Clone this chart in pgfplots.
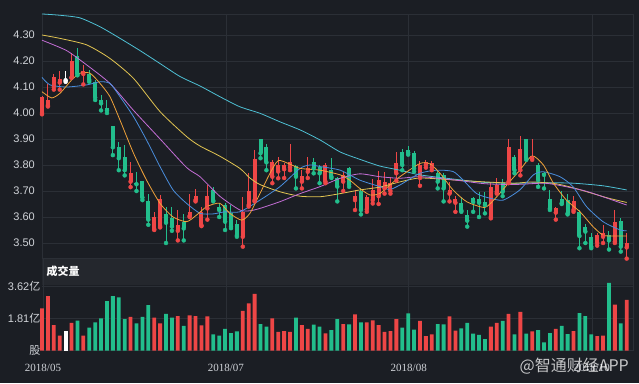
\documentclass[border=0pt]{standalone}
\usepackage{pgfplots}
\pgfplotsset{compat=1.18}
\usepackage{pgfplotstable}
\usepackage{fontspec}
\setmainfont{Liberation Sans}
\newfontfamily\cjk{Noto Sans CJK SC}
\newfontfamily\datefont{Liberation Serif}
\definecolor{bgc}{HTML}{1B1E24}
\definecolor{bandc}{HTML}{24272D}
\definecolor{gridc}{HTML}{2B2F36}
\definecolor{upc}{HTML}{EE4646}
\definecolor{dnc}{HTML}{22BE8C}
\definecolor{lblc}{HTML}{D0D3D8}
\definecolor{macyan}{HTML}{4EC0D4}
\definecolor{magold}{HTML}{E2C552}
\definecolor{mamag}{HTML}{C46ED6}
\definecolor{mablue}{HTML}{4A8EDD}
\definecolor{maorange}{HTML}{F0A23A}

\pgfplotstableread{
i O H L C V
0 4.000 4.065 3.995 4.060 2.40
1 4.030 4.110 4.025 4.050 3.09
2 4.100 4.150 4.090 4.140 1.45
3 4.117 4.160 4.090 4.130 0.85
5 4.137 4.230 4.135 4.200 1.57
7 4.150 4.185 4.110 4.160 0.85
15 3.736 3.810 3.715 3.770 1.91
19 3.553 3.620 3.550 3.600 1.87
20 3.565 3.685 3.560 3.668 1.55
23 3.547 3.627 3.510 3.570 1.96
25 3.604 3.690 3.600 3.620 2.00
26 3.665 3.706 3.660 3.680 1.96
27 3.568 3.640 3.565 3.620 1.43
28 3.633 3.723 3.590 3.680 1.94
34 3.524 3.678 3.486 3.620 2.25
35 3.646 3.768 3.640 3.700 2.68
36 3.665 3.858 3.660 3.822 3.21
39 3.755 3.820 3.730 3.813 1.83
40 3.775 3.832 3.749 3.800 1.07
41 3.784 3.806 3.750 3.800 1.11
42 3.790 3.880 3.780 3.810 1.06
44 3.736 3.780 3.710 3.757 1.45
45 3.774 3.830 3.750 3.787 1.24
48 3.736 3.806 3.730 3.800 0.98
51 3.736 3.775 3.700 3.762 1.51
53 3.665 3.705 3.627 3.680 2.06
55 3.630 3.685 3.620 3.678 1.60
56 3.665 3.746 3.652 3.704 1.72
57 3.680 3.777 3.650 3.742 1.45
58 3.710 3.775 3.690 3.733 1.07
59 3.700 3.755 3.690 3.730 1.11
60 3.768 3.850 3.740 3.809 1.79
64 3.750 3.815 3.720 3.800 1.68
65 3.800 3.820 3.790 3.813 0.83
66 3.790 3.815 3.780 3.806 0.93
69 3.690 3.736 3.660 3.704 1.94
70 3.655 3.680 3.620 3.668 1.13
76 3.600 3.736 3.595 3.715 1.36
77 3.697 3.750 3.690 3.722 1.58
79 3.736 3.900 3.730 3.870 2.08
81 3.780 3.912 3.760 3.860 2.19
83 3.826 3.900 3.820 3.834 1.10
87 3.617 3.640 3.590 3.633 1.23
90 3.627 3.680 3.620 3.662 1.11
94 3.500 3.537 3.490 3.530 0.83
95 3.524 3.570 3.500 3.537 0.85
97 3.505 3.627 3.500 3.582 2.60
99 3.483 3.537 3.440 3.500 2.87
}\uptab

\pgfplotstableread{
i O H L C V
6 4.219 4.250 4.145 4.150 1.70
8 4.150 4.165 4.120 4.127 1.30
9 4.120 4.127 4.050 4.060 1.60
10 4.050 4.070 4.010 4.037 1.83
11 4.020 4.050 4.000 4.010 2.81
12 3.950 3.950 3.838 3.868 3.09
13 3.870 3.890 3.780 3.826 3.02
14 3.830 3.877 3.760 3.780 1.78
16 3.732 3.774 3.700 3.726 1.55
17 3.738 3.740 3.665 3.675 1.91
18 3.660 3.690 3.570 3.590 2.58
21 3.610 3.640 3.500 3.578 2.08
22 3.595 3.640 3.547 3.563 1.87
24 3.582 3.610 3.510 3.556 1.41
29 3.704 3.717 3.660 3.663 0.93
30 3.640 3.653 3.600 3.627 0.85
31 3.646 3.653 3.550 3.582 1.24
32 3.614 3.645 3.557 3.563 1.00
33 3.573 3.590 3.524 3.530 1.10
37 3.899 3.900 3.826 3.845 1.51
38 3.870 3.880 3.780 3.810 1.36
43 3.796 3.800 3.710 3.755 1.87
46 3.810 3.826 3.768 3.787 1.47
47 3.794 3.800 3.730 3.768 1.36
49 3.780 3.826 3.750 3.755 1.17
50 3.749 3.755 3.660 3.717 1.79
52 3.790 3.794 3.716 3.726 1.49
54 3.700 3.710 3.610 3.627 1.60
61 3.851 3.860 3.780 3.800 1.30
62 3.857 3.875 3.840 3.847 2.11
63 3.845 3.852 3.775 3.787 1.19
67 3.770 3.780 3.710 3.736 1.51
68 3.762 3.770 3.660 3.710 1.49
71 3.652 3.678 3.620 3.625 1.26
72 3.608 3.627 3.563 3.586 1.58
73 3.672 3.678 3.620 3.658 0.96
74 3.668 3.697 3.600 3.655 0.89
75 3.659 3.697 3.614 3.646 0.66
78 3.730 3.745 3.680 3.697 1.68
80 3.832 3.840 3.768 3.780 0.93
82 3.899 3.900 3.820 3.826 0.96
84 3.800 3.806 3.716 3.742 1.17
85 3.770 3.774 3.710 3.762 0.47
86 3.670 3.704 3.627 3.633 1.00
88 3.670 3.700 3.650 3.653 1.41
89 3.665 3.688 3.610 3.614 0.94
91 3.620 3.627 3.480 3.527 2.13
92 3.563 3.573 3.500 3.544 1.96
93 3.522 3.537 3.480 3.486 0.93
96 3.530 3.547 3.475 3.510 3.83
98 3.586 3.595 3.467 3.486 1.55
}\dntab

\pgfplotstableread{
i O H L C V
4 4.126 4.160 4.120 4.128 1.11
}\flattab

\begin{document}
\begin{tikzpicture}
\fill[bgc] (0pt,0pt) rectangle (639pt,383pt);
\fill[bandc] (42pt,98pt) rectangle (633pt,124.5pt);

% ---------------- price panel ----------------
\begin{axis}[
  at={(42pt,124.5pt)}, anchor=south west,
  scale only axis, width=591pt, height=244.5pt,
  xmin=0, xmax=100.07, ymin=3.4404, ymax=4.3808,
  clip=false,
  axis line style={draw=gridc, line width=0.6pt},
  major tick length=0pt,
  xtick={31.15,62.1,93.1}, xticklabels={},
  ytick={3.5,3.6,3.7,3.8,3.9,4.0,4.1,4.2,4.3},
  yticklabels={3.50,3.60,3.70,3.80,3.90,4.00,4.10,4.20,4.30},
  grid=major, major grid style={draw=gridc, line width=0.6pt},
  yticklabel style={font=\fontsize{11}{11}\selectfont, text=lblc, anchor=east, inner sep=0pt, xshift=-7pt},
]
% wicks
\addplot[upc, only marks, mark=none, error bars/.cd, y dir=plus, y explicit, error mark=none, error bar style={line width=1pt}]
  table[x=i, y=L, y error plus expr=\thisrow{H}-\thisrow{L}] {\uptab};
\addplot[dnc, only marks, mark=none, error bars/.cd, y dir=plus, y explicit, error mark=none, error bar style={line width=1pt}]
  table[x=i, y=L, y error plus expr=\thisrow{H}-\thisrow{L}] {\dntab};
\addplot[white, only marks, mark=none, error bars/.cd, y dir=plus, y explicit, error mark=none, error bar style={line width=1pt}]
  table[x=i, y=L, y error plus expr=\thisrow{H}-\thisrow{L}] {\flattab};
% bodies
\addplot[upc, only marks, mark=none, error bars/.cd, y dir=plus, y explicit, error mark=none, error bar style={line width=4pt}]
  table[x=i, y=O, y error plus expr=\thisrow{C}-\thisrow{O}] {\uptab};
\addplot[dnc, only marks, mark=none, error bars/.cd, y dir=plus, y explicit, error mark=none, error bar style={line width=4pt}]
  table[x=i, y=C, y error plus expr=\thisrow{O}-\thisrow{C}] {\dntab};
\addplot[white, only marks, mark=none, error bars/.cd, y dir=plus, y explicit, error mark=none, error bar style={line width=4pt}]
  table[x=i, y=O, y error plus expr=\thisrow{C}-\thisrow{O}] {\flattab};

% moving averages
\addplot[macyan, line width=0.8pt, smooth, tension=0.4] coordinates {
(0,4.381) (3,4.376) (6.4,4.366) (9.8,4.332) (13,4.29) (16.6,4.24) (20,4.19) (23.4,4.14) (26.75,4.104) (30.1,4.063) (33.5,4.024) (36.9,3.999) (40.3,3.966) (43.7,3.935) (47.1,3.896) (50.5,3.85) (53.8,3.822) (57.2,3.796) (60.6,3.78) (64,3.762) (70,3.745) (75,3.733) (80,3.73) (85,3.732) (90,3.73) (95,3.72) (99,3.704)};
\addplot[magold, line width=0.8pt, smooth, tension=0.4] coordinates {
(0,4.30) (3.05,4.287) (7.56,4.262) (11.5,4.21) (15.5,4.133) (20,4.005) (24.5,3.909) (26.75,3.873) (30.1,3.834) (33.5,3.787) (35.2,3.75) (36.9,3.725) (40.3,3.697) (43.7,3.68) (47.1,3.678) (50.5,3.69) (53.8,3.704) (57.2,3.715) (60.6,3.735) (64,3.75) (70,3.742) (75,3.735) (80,3.73) (83,3.735) (87,3.728) (90,3.712) (93,3.692) (96,3.672) (99,3.656)};
\addplot[mamag, line width=0.8pt, smooth, tension=0.4] coordinates {
(0,4.28) (4.17,4.24) (7.56,4.185) (11.5,4.114) (15.5,4.01) (20,3.90) (24.5,3.79) (26.75,3.755) (30.1,3.68) (33.5,3.627) (35.2,3.624) (36.9,3.633) (40.3,3.659) (43.7,3.69) (47.1,3.717) (50.5,3.749) (53.8,3.766) (57.2,3.755) (60.6,3.749) (64,3.755) (70,3.742) (75,3.728) (80,3.725) (85,3.73) (88,3.72) (92,3.70) (96,3.67) (99,3.646)};
\addplot[mablue, line width=0.8pt, smooth, tension=0.4] coordinates {
(0,4.137) (1.36,4.108) (4.17,4.10) (7.56,4.108) (9.8,4.12) (11.5,4.114) (13.2,4.063) (15.5,3.986) (17.7,3.896) (20,3.793) (22.2,3.704) (24.5,3.652) (26.8,3.614) (29,3.612) (31,3.62) (33.5,3.62) (36.9,3.665) (40.3,3.717) (43.7,3.787) (45.4,3.80) (47.1,3.794) (50.5,3.78) (53.8,3.742) (57.2,3.717) (58.9,3.706) (60.6,3.723) (64,3.768) (66.8,3.78) (69.6,3.775) (71.3,3.742) (73.6,3.69) (75.9,3.672) (78.1,3.665) (80.9,3.704) (83.2,3.762) (84.9,3.774) (87.7,3.755) (89.9,3.717) (92.2,3.64) (95,3.582) (97.9,3.55) (99,3.547)};
\addplot[maorange, line width=0.8pt, smooth, tension=0.4] coordinates {
(0,4.082) (1.64,4.058) (3.05,4.076) (5.02,4.127) (6.43,4.153) (8.13,4.153) (9.82,4.114) (11.5,4.063) (13.2,3.973) (15.5,3.845) (17.7,3.742) (20,3.652) (22.2,3.60) (24.5,3.582) (26.2,3.608) (27.9,3.64) (30.1,3.653) (31.8,3.614) (33.8,3.588) (35.2,3.614) (36.9,3.69) (38.6,3.768) (40,3.817) (41.9,3.804) (43.7,3.787) (47.1,3.78) (50.5,3.762) (52.1,3.742) (53.8,3.71) (55.5,3.685) (57.2,3.69) (58.9,3.723) (60.6,3.755) (64,3.806) (65.7,3.804) (67.4,3.768) (69.6,3.704) (71.9,3.659) (75,3.637) (77,3.678) (79.2,3.736) (80.9,3.78) (83,3.835) (84.9,3.80) (86.6,3.73) (88.8,3.665) (91.1,3.62) (93.3,3.563) (95,3.53) (96.7,3.527) (99,3.527)};
\end{axis}

% ---------------- volume panel ----------------
\begin{axis}[
  at={(42pt,32.3pt)}, anchor=south west,
  scale only axis, width=591pt, height=92.2pt,
  xmin=0, xmax=100.07, ymin=0, ymax=5.215,
  clip=false,
  axis line style={draw=none},
  major tick length=0pt,
  xtick={0.17,31.15,62.1,93.1},
  xticklabels={2018/05,2018/07,2018/08,2018/10},
  extra x ticks={100.07}, extra x tick labels={},
  ytick={0,1.81,3.62},
  yticklabels={{\cjk 股},{1.81\cjk 亿},{3.62\cjk 亿}},
  xmajorgrids, major grid style={draw=gridc, line width=0.6pt},
  extra x tick style={grid=major},
  xticklabel style={font=\datefont\fontsize{11}{11}\selectfont, text=lblc, anchor=center, inner sep=0pt, yshift=-17.5pt},
  yticklabel style={font=\fontsize{11}{11}\selectfont, text=lblc, anchor=east, inner sep=0pt, xshift=-1.5pt},
  ymajorgrids,
]
\addplot[ybar, bar width=3.8pt, bar shift=0pt, fill=upc, draw=none] table[x=i, y=V] {\uptab};
\addplot[ybar, bar width=3.8pt, bar shift=0pt, fill=dnc, draw=none] table[x=i, y=V] {\dntab};
\addplot[ybar, bar width=3.8pt, bar shift=0pt, fill=white, draw=none] table[x=i, y=V] {\flattab};
\end{axis}

\node[anchor=west, text=white, inner sep=0pt, font=\cjk\bfseries\fontsize{11}{11}\selectfont] at (46.5pt,111.5pt) {成交量};
\node[anchor=east, text=white, opacity=0.75, inner sep=0pt, font=\cjk\fontsize{16}{16}\selectfont] at (629pt,16.5pt) {@智通财经APP};

\pgfresetboundingbox
\path[use as bounding box] (0pt,0pt) rectangle (639pt,383pt);
\end{tikzpicture}
\end{document}
